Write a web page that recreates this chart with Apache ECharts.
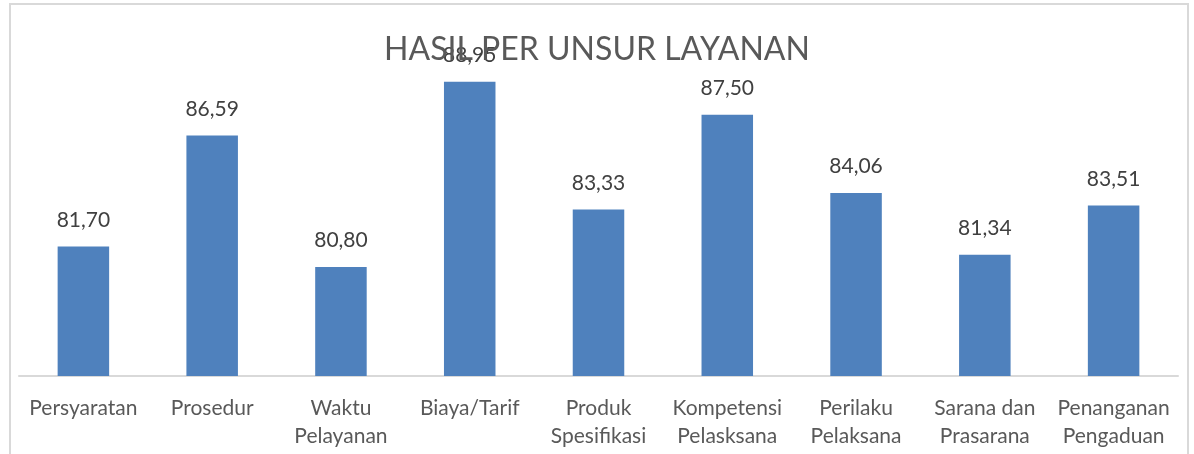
<!DOCTYPE html>
<html>
<head>
<meta charset="utf-8">
<script src="https://cdn.jsdelivr.net/npm/echarts@6/dist/echarts.min.js"></script>
<style>
  html, body { margin: 0; padding: 0; background: #fff; }
  #chart { width: 1194px; height: 454px; }
</style>
</head>
<body>
<div id="chart"></div>
<script>
const categories = ['Persyaratan', 'Prosedur', 'Waktu\nPelayanan', 'Biaya/Tarif', 'Produk\nSpesifikasi',
  'Kompetensi\nPelasksana', 'Perilaku\nPelaksana', 'Sarana dan\nPrasarana', 'Penanganan\nPengaduan']
const values = [81.70, 86.59, 80.80, 88.95, 83.33, 87.50, 84.06, 81.34, 83.51]

const chart = echarts.init(document.getElementById('chart'))
const font = 'Lato, "Open Sans", sans-serif'

chart.setOption({
  animation: false,
  title: {
    text: 'HASIL PER UNSUR LAYANAN',
    left: 'center',
    top: 29,
    textStyle: { fontFamily: font, fontSize: 32, fontWeight: 'normal', color: '#595959' }
  },
  graphic: [{
    type: 'rect',
    shape: { x: 10, y: 4, width: 1178, height: 480 },
    style: { fill: 'none', stroke: '#d9d9d9', lineWidth: 2 },
    z: -1
  }],
  grid: { left: 19, right: 16, top: 58, bottom: 78 },
  xAxis: {
    type: 'category',
    data: categories,
    axisLine: { lineStyle: { color: '#d9d9d9', width: 2 } },
    axisTick: { show: false },
    axisLabel: {
      interval: 0,
      margin: 18,
      color: '#595959',
      fontFamily: font,
      fontSize: 21,
      lineHeight: 28
    }
  },
  yAxis: {
    type: 'value',
    min: 76,
    max: 90,
    show: false
  },
  series: [{
    type: 'bar',
    data: values,
    barCategoryGap: '60%',
    itemStyle: { color: '#4f81bd' },
    label: {
      show: true,
      position: 'top',
      distance: 16,
      color: '#404040',
      fontFamily: font,
      fontSize: 21,
      formatter: p => p.value.toFixed(2).replace('.', ',')
    }
  }]
})
</script>
</body>
</html>
